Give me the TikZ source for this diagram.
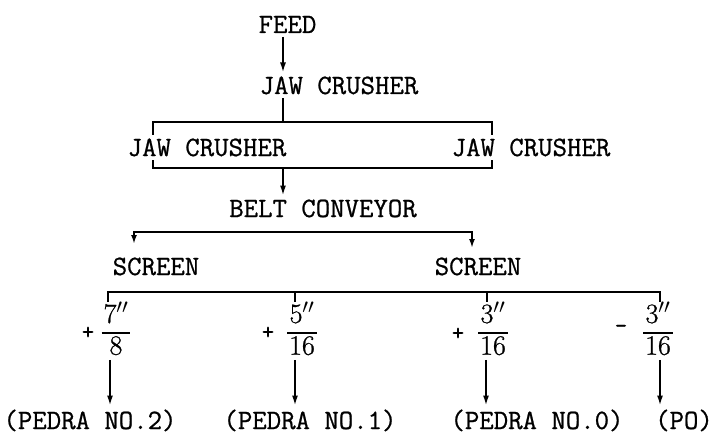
\documentclass[tikz,border=0pt]{standalone}
\usepackage{fontspec}
\newfontfamily\twfont{Latin Modern Mono}[FakeBold=0.8]
\newfontfamily\rmfrac{Latin Modern Roman}[FakeBold=0.8]
\usetikzlibrary{arrows.meta}
\newcommand\myfrac[2]{{\renewcommand\arraystretch{0.9}\setlength\arrayrulewidth{1.5pt}\begin{tabular}[t]{@{\hspace{2pt}}c@{\hspace{2pt}}}#1\\\hline #2\end{tabular}}}
\begin{document}
\begin{tikzpicture}[x=1pt,y=-1pt,
  lbl/.style={font=\twfont\fontsize{28}{33.6}\selectfont, inner sep=0pt, outer sep=4pt, anchor=base},
  frc/.style={font=\rmfrac\fontsize{28}{33.6}\selectfont, inner sep=0pt, outer sep=0pt, anchor=base},
  sgn/.style={font=\twfont\fontsize{24}{28}\selectfont, inner sep=0pt},
  ln/.style={line width=1.8pt},
  arr/.style={ln, -{Latex[length=10pt,width=6pt]}},
  dblarr/.style={ln, {Latex[length=9pt,width=6pt]}-{Latex[length=9pt,width=6pt]}},
]
\useasboundingbox (0,0) rectangle (718,444);
\fill[white] (0,0) rectangle (718,444);

% text nodes
\node[lbl] (feed) at (287.5,33) {FEED};
\node[lbl] (jaw)  at (339,94) {JAW CRUSHER};
\node[lbl] (jawl) at (207,156) {JAW CRUSHER};
\node[lbl] (jawr) at (531,156) {JAW CRUSHER};
\node[lbl] (belt) at (323,217) {BELT CONVEYOR};
\node[lbl] (scrl) at (156,275) {SCREEN};
\node[lbl] (scrr) at (478,275) {SCREEN};

\node[frc] (f1) at (116,323) {\myfrac{7$''$}{8}};
\node[frc] (f2) at (302,323) {\myfrac{5$''$}{16}};
\node[frc] (f3) at (493,323) {\myfrac{3$''$}{16}};
\node[frc] (f4) at (658,323) {\myfrac{3$''$}{16}};
\node[sgn] (s1) at (88,333) {+};
\node[sgn] (s2) at (268,333) {+};
\node[sgn] (s3) at (458,334) {+};
\node[sgn] (s4) at (621,329) {-};

\node[lbl] (p2) at (90,429) {(PEDRA NO.2)};
\node[lbl] (p1) at (310,429) {(PEDRA NO.1)};
\node[lbl] (p0) at (537,429) {(PEDRA NO.0)};
\node[lbl] (po) at (684,429) {(PO)};

% junction coordinates
\coordinate (x283) at (283,0);
\coordinate (bTL) at (153,122);
\coordinate (bTR) at (492,122);
\coordinate (bBL) at (153,168);
\coordinate (bBR) at (492,168);
\coordinate (dL) at (134,232);
\coordinate (dR) at (472,232);
\coordinate (dLt) at (134,244);
\coordinate (dRt) at (472,248);
\coordinate (lL) at (108,292);
\coordinate (lR) at (660,292);
\coordinate (l2) at (295,292);
\coordinate (l3) at (487,292);
\coordinate (a1) at (110,0);
\coordinate (a2) at (295,0);
\coordinate (a3) at (486,0);
\coordinate (a4) at (660,0);

% connectors
\draw[arr] (feed.south -| x283) -- (jaw.north -| x283);
\draw[ln] (jaw.south -| x283) -- (x283 |- bTL);
\draw[ln] (jawl.north -| bTL) -- (bTL) -- (bTR) -- (jawr.north -| bTR);
\draw[ln] (jawl.south -| bBL) -- (bBL) -- (bBR) -- (jawr.south -| bBR);
\draw[arr] (x283 |- bBL) -- (belt.north -| x283);

\draw[dblarr] (dLt) -- (dL) -- (dR) -- (dRt);

\draw[ln] (f1.north -| lL) -- (lL) -- (lR) -- (f4.north -| lR);
\draw[ln] (l2) -- (f2.north -| l2);
\draw[ln] (l3) -- (f3.north -| l3);

\draw[arr, shorten <=-4pt] (f1.south -| a1) -- (p2.north -| a1);
\draw[arr, shorten <=-4pt] (f2.south -| a2) -- (p1.north -| a2);
\draw[arr, shorten <=-4pt] (f3.south -| a3) -- (p0.north -| a3);
\draw[arr, shorten <=-4pt] (f4.south -| a4) -- (po.north -| a4);
\end{tikzpicture}
\end{document}
